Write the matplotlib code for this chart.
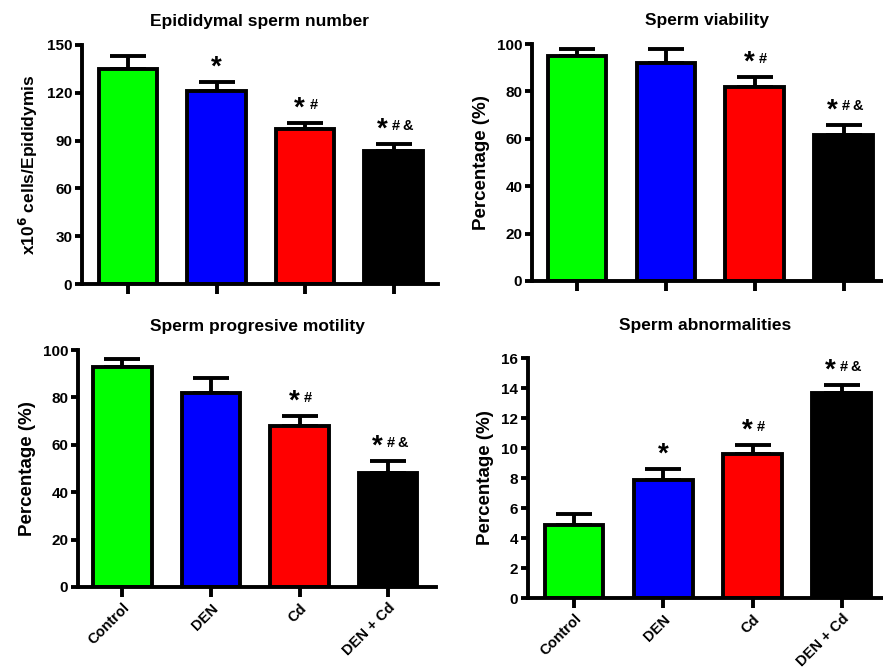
import matplotlib
matplotlib.use("Agg")
import matplotlib.pyplot as plt

plt.rcParams['font.family'] = ['Liberation Sans', 'DejaVu Sans']
plt.rcParams['font.weight'] = 'bold'

groups = ["Control", "DEN", "Cd", "DEN + Cd"]
colors = ["#00ff00", "#0000ff", "#ff0000", "#000000"]

sperm_number = [135, 121, 97, 83.5]
sperm_number_sem = [8, 6, 4, 4.5]
viability = [95, 92, 82, 61.5]
viability_sem = [3, 6, 4, 4.5]
motility = [93, 82, 68, 48]
motility_sem = [3, 6, 4, 5]
abnormal = [4.9, 7.85, 9.6, 13.7]
abnormal_sem = [0.7, 0.75, 0.6, 0.5]

number_sig = ["", "*", "*#", "*#&"]
viability_sig = ["", "", "*#", "*#&"]
motility_sig = ["", "", "*#", "*#&"]
abnormal_sig = ["", "*", "*#", "*#&"]

panels = [
    dict(rect=[82/883, 1-284/669, 356/883, 239/669], vals=sperm_number, err=sperm_number_sem,
         sig=number_sig, title="Epididymal sperm number", ylabel=r"x10$^{\mathbf{6}}$ cells/Epididymis",
         ylsize=12.5, ylim=(0, 150), yticks=[0, 30, 60, 90, 120, 150], xlim=(-0.52, 3.5),
         xlabels=False, tpad=14),
    dict(rect=[532/883, 1-281/669, 350/883, 237/669], vals=viability, err=viability_sem,
         sig=viability_sig, title="Sperm viability", ylabel="Percentage (%)",
         ylsize=13.5, ylim=(0, 100), yticks=[0, 20, 40, 60, 80, 100], xlim=(-0.506, 3.43),
         xlabels=False, tpad=14),
    dict(rect=[78/883, 1-587/669, 358/883, 237/669], vals=motility, err=motility_sem,
         sig=motility_sig, title="Sperm progresive motility", ylabel="Percentage (%)",
         ylsize=13.5, ylim=(0, 100), yticks=[0, 20, 40, 60, 80, 100], xlim=(-0.5, 3.54),
         xlabels=True, tpad=14),
    dict(rect=[528/883, 1-598/669, 354/883, 240/669], vals=abnormal, err=abnormal_sem,
         sig=abnormal_sig, title="Sperm abnormalities", ylabel="Percentage (%)",
         ylsize=13.5, ylim=(0, 16), yticks=[0, 2, 4, 6, 8, 10, 12, 14, 16], xlim=(-0.515, 3.45),
         xlabels=True, tpad=20),
]

fig = plt.figure(figsize=(8.83, 6.69), dpi=100)

for p in panels:
    ax = fig.add_axes(p["rect"])
    x = list(range(len(groups)))
    ax.bar(x, p["vals"], width=0.66, color=colors, edgecolor="black", linewidth=2.8, zorder=2)
    ax.errorbar(x, p["vals"], yerr=[[0]*4, p["err"]], fmt="none", ecolor="black",
                elinewidth=2.8, capsize=13, capthick=2.8, zorder=1)
    ax.set_xlim(*p["xlim"])
    ax.set_ylim(*p["ylim"])
    ax.set_yticks(p["yticks"])
    ax.set_yticklabels([str(t) for t in p["yticks"]], fontsize=11, fontweight="bold")
    ax.set_xticks(x)
    if p["xlabels"]:
        ax.set_xticklabels(groups, rotation=45, ha="right", rotation_mode="anchor",
                           fontsize=10.5, fontweight="bold")
    else:
        ax.set_xticklabels([])
    for s in ["top", "right"]:
        ax.spines[s].set_visible(False)
    for s in ["left", "bottom"]:
        ax.spines[s].set_linewidth(2.8)
    ax.tick_params(axis="y", direction="out", length=5, width=2.8, pad=2)
    ax.tick_params(axis="x", direction="out", length=7, width=2.8, pad=3)
    ax.set_title(p["title"], fontsize=12.5, fontweight="bold", pad=p["tpad"])
    ax.set_ylabel(p["ylabel"], fontsize=p["ylsize"], fontweight="bold", labelpad=5)
    for i, (v, e, s) in enumerate(zip(p["vals"], p["err"], p["sig"])):
        if not s:
            continue
        top = v + e
        rest = s[1:]
        xoff = -4 * len(rest)
        ax.annotate("*", xy=(i, top), xytext=(xoff, 1), textcoords="offset points",
                    ha="center", va="bottom", fontsize=20, fontweight="bold",
                    annotation_clip=False)
        if rest:
            ax.annotate("\u2009".join(rest), xy=(i, top), xytext=(xoff + 7, 8),
                        textcoords="offset points", ha="left", va="bottom",
                        fontsize=10.5, fontweight="bold", annotation_clip=False)

fig.savefig("out.png", dpi=100)
